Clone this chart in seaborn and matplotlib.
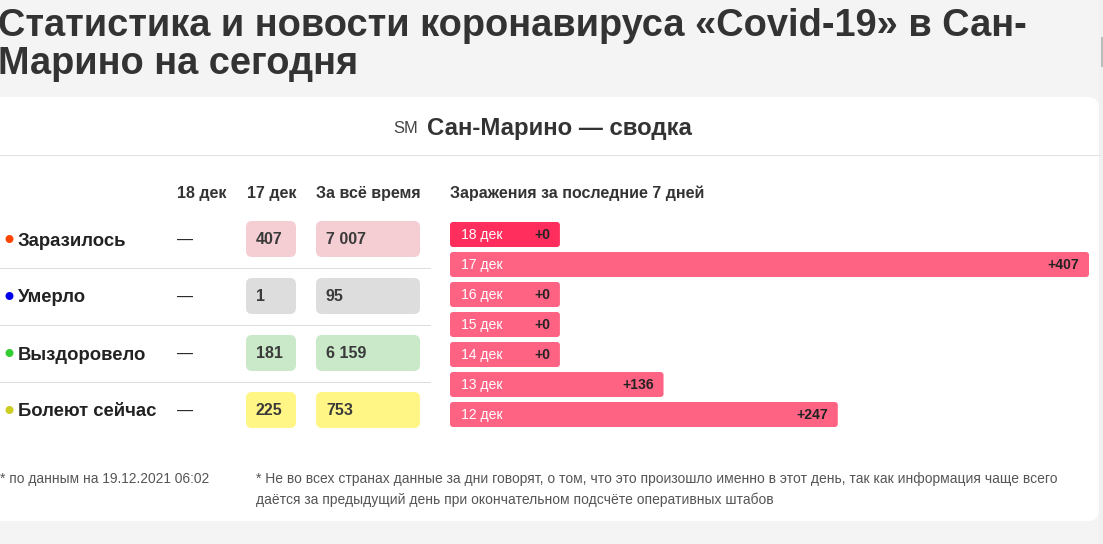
import numpy as np
import pandas as pd
import matplotlib
matplotlib.use("Agg")
import matplotlib.pyplot as plt
from matplotlib.patches import FancyBboxPatch, Circle
import seaborn as sns

title_lines = ["Статистика и новости коронавируса «Covid-19» в Сан-", "Марино на сегодня"]
card_code = "SM"
card_title = "Сан-Марино — сводка"
col_heads = ["18 дек", "17 дек", "За всё время"]
chart_head = "Заражения за последние 7 дней"

row_names = ["Заразилось", "Умерло", "Выздоровело", "Болеют сейчас"]
dot_colors = ["#ff4500", "#0000ee", "#32cd32", "#cccc22"]
cell_colors = ["#f5ced4", "#dddddd", "#c9e9c9", "#fff685"]
last_day = ["—", "—", "—", "—"]
prev_day = ["407", "1", "181", "225"]
all_time = ["7 007", "95", "6 159", "753"]

days = ["18 дек", "17 дек", "16 дек", "15 дек", "14 дек", "13 дек", "12 дек"]
cases = [0, 407, 0, 0, 0, 136, 247]
# short bars still keep room for both labels
min_bar = 70

note_left = "* по данным на 19.12.2021 06:02"
note_right = ["* Не во всех странах данные за дни говорят, о том, что это произошло именно в этот день, так как информация чаще всего",
              "даётся за предыдущий день при окончательном подсчёте оперативных штабов"]

sns.set_theme(style="white")
plt.rcParams["font.family"] = ["Liberation Sans", "DejaVu Sans"]

W, H = 1103, 544
fig = plt.figure(figsize=(W / 100, H / 100), dpi=100, facecolor="#f4f4f4")

# page layer in pixel coordinates
bg = fig.add_axes([0, 0, 1, 1])
bg.set_xlim(0, W)
bg.set_ylim(H, 0)
bg.axis("off")


def label(x, y, s, px, color="#333333", weight="normal", ha="left", z=3):
    bg.text(x, y, s, fontsize=px * 0.72, color=color, weight=weight, ha=ha, va="center_baseline", zorder=z)


def box(x0, y0, x1, y1, color, r, z=1):
    bg.add_patch(FancyBboxPatch((x0 + r, y0 + r), x1 - x0 - 2 * r, y1 - y0 - 2 * r,
                                boxstyle=f"round,pad={r},rounding_size={r}",
                                fc=color, ec="none", zorder=z))


box(-20, 97, 1099, 521, "white", 11)
# scrollbar at the right edge of the page
bg.axvspan(1099, 1103, color="#f1f1f1", lw=0)
bg.axvspan(1101, 1103, ymin=1 - 67 / H, ymax=1 - 37 / H, color="#bdbdbd", lw=0)
bg.plot([0, 1099], [154.5, 154.5], color="#e0e0e0", lw=0.72)

label(-2, 22, title_lines[0], 38, weight="bold")
label(-2, 60, title_lines[1], 38, weight="bold")

label(393, 127, card_code, 16.5, color="#444444")
label(427, 126, card_title, 24, weight="bold")

for x, s in zip([177, 247, 316], col_heads):
    label(x, 192, s, 16, weight="bold")
label(450, 192, chart_head, 16, weight="bold")

for i, name in enumerate(row_names):
    top = 221 + 57 * i
    mid = top + 18
    bg.add_patch(Circle((9.5, mid), 3.3, color=dot_colors[i], zorder=2))
    label(18, mid, name, 18.5, color="#222222", weight="bold")
    label(177, mid, last_day[i], 16, color="#222222")
    box(246, top, 296, top + 36, cell_colors[i], 6)
    box(316, top, 420, top + 36, cell_colors[i], 6)
    label(256, mid - 1, prev_day[i], 16, weight="bold", color="#3a3a3a")
    label(326, mid - 1, all_time[i], 16, weight="bold", color="#3a3a3a")
    if i < 3:
        bg.plot([0, 430], [top + 46.5, top + 46.5], color="#dddddd", lw=0.72)

label(0, 478, note_left, 13.7, color="#555555")
label(256, 478, note_right[0], 13.9, color="#555555")
label(256, 498.5, note_right[1], 13.9, color="#555555")

# 7 day bars
df = pd.DataFrame({"day": days, "cases": cases})
df["shown"] = np.maximum(df["cases"], min_bar)

ax = fig.add_axes([450 / W, 1 - 429.5 / H, 639 / W, 210 / H])
ax.patch.set_alpha(0)
sns.barplot(data=df, x="shown", y="day", width=25 / 30, color="#ff6384", saturation=1, ax=ax)
ax.set_xlim(0, 407)
ax.set_ylim(6.5, -0.5)
ax.axis("off")

# swap square bars for rounded ones of the same size
for i, bar in enumerate(list(ax.patches)):
    x0, y0, w, h = bar.get_x(), bar.get_y(), bar.get_width(), bar.get_height()
    bar.set_visible(False)
    p0 = ax.transData.transform((x0, y0))
    p1 = ax.transData.transform((x0 + w, y0 + h))
    px0, px1 = p0[0], p1[0]
    py0, py1 = sorted([H - p0[1], H - p1[1]])
    box(px0, py0, px1, py1, "#ff2e5c" if i == 0 else "#ff6384", 3, z=2)
    mid = (py0 + py1) / 2 - 1
    label(px0 + 11, mid, df["day"][i], 14, color="white")
    label(px1 - 10, mid, f"+{df['cases'][i]}", 14, color="#222222", weight="bold", ha="right")

fig.savefig("out.png", dpi=100, facecolor=fig.get_facecolor())
